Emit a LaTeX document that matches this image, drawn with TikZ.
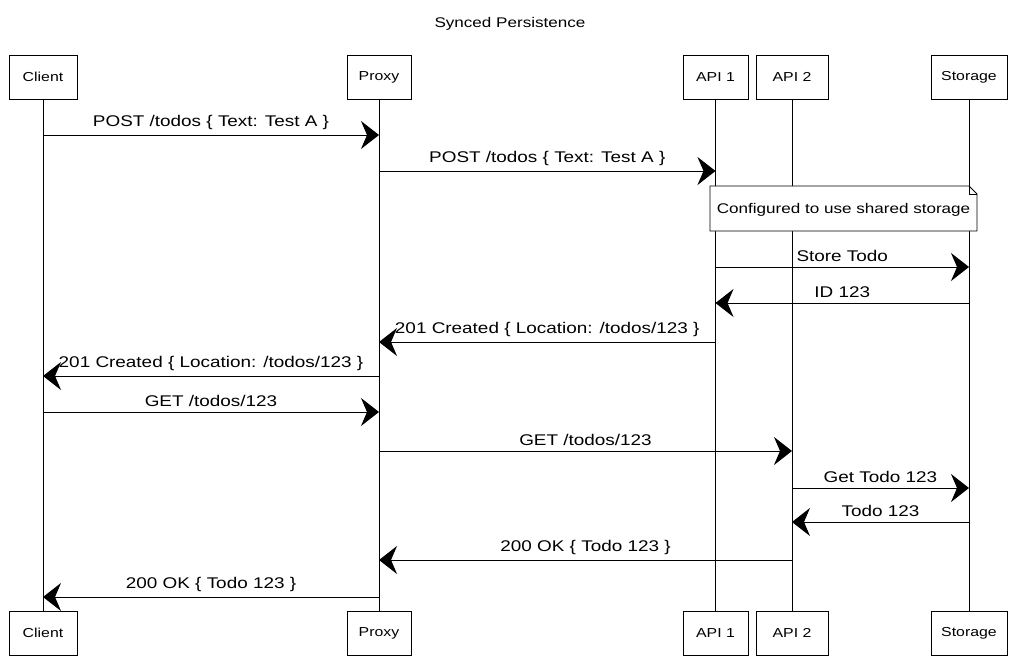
\documentclass[tikz,border=0pt]{standalone}
\usepackage{fontspec}
\setmainfont[FakeStretch=1.22]{Liberation Sans}
\usetikzlibrary{arrows.meta}
\begin{document}
\begin{tikzpicture}[x=1pt,y=-1pt,
  part/.style={draw=black,line width=0.9pt,fill=white,minimum height=44pt,inner sep=0pt,font=\fontsize{13}{15}\selectfont},
  life/.style={draw=black,line width=0.8pt},
  msg/.style={draw=black,line width=1pt,-{Stealth[length=18pt,width=28pt,inset=6pt]}},
  lbl/.style={font=\fontsize{15.5}{18}\selectfont,inner sep=0pt,anchor=base}
]
\useasboundingbox (0,0) rectangle (1020,659);
\node[font=\fontsize{14}{16}\selectfont] (title) at (510,24) {Synced Persistence};

% top participants
\node[part,minimum width=68pt] (ct) at (43,77) {Client};
\node[part,minimum width=64pt] (pt) at (379,77) {Proxy};
\node[part,minimum width=65pt] (at) at (715.5,77) {API 1};
\node[part,minimum width=72pt] (bt) at (792,77) {API 2};
\node[part,minimum width=76pt] (st) at (969,77) {Storage};
% bottom participants
\node[part,minimum width=68pt] (cb) at (43,633) {Client};
\node[part,minimum width=64pt] (pb) at (379,633) {Proxy};
\node[part,minimum width=65pt] (ab) at (715.5,633) {API 1};
\node[part,minimum width=72pt] (bb) at (792,633) {API 2};
\node[part,minimum width=76pt] (sb) at (969,633) {Storage};

% lifelines
\draw[life] (ct.south) -- (cb.north);
\draw[life] (pt.south) -- (pb.north);
\draw[life] (at.south) -- (ab.north);
\draw[life] (bt.south) -- (bb.north);
\draw[life] (st.south) -- (sb.north);

% note
\draw[line width=0.9pt,fill=white] (710,186) -- (969,186) -- (977,194) -- (977,231) -- (710,231) -- cycle;
\draw[line width=0.9pt] (969,186) -- (969,194) -- (977,194);
\node[font=\fontsize{14}{16}\selectfont,inner sep=0pt] (note) at (843.5,210) {Configured to use shared storage};

% messages
\draw[msg] (ct.south |- 0,135) -- (pt.south |- 0,135) node[lbl,midway,above=5pt] {POST /todos \{ Text: Test A \}};
\draw[msg] (pt.south |- 0,171) -- (at.south |- 0,171) node[lbl,midway,above=5pt] {POST /todos \{ Text: Test A \}};
\draw[msg] (at.south |- 0,267) -- (st.south |- 0,267) node[lbl,midway,above=5pt] {Store Todo};
\draw[msg] (st.south |- 0,303) -- (at.south |- 0,303) node[lbl,midway,above=5pt] {ID 123};
\draw[msg] (at.south |- 0,342) -- (pt.south |- 0,342) node[lbl,midway,above=5pt] {201 Created \{ Location: /todos/123 \}};
\draw[msg] (pt.south |- 0,376) -- (ct.south |- 0,376) node[lbl,midway,above=5pt] {201 Created \{ Location: /todos/123 \}};
\draw[msg] (ct.south |- 0,412) -- (pt.south |- 0,412) node[lbl,midway,above=5pt] {GET /todos/123};
\draw[msg] (pt.south |- 0,451) -- (bt.south |- 0,451) node[lbl,midway,above=5pt] {GET /todos/123};
\draw[msg] (bt.south |- 0,488) -- (st.south |- 0,488) node[lbl,midway,above=5pt] {Get Todo 123};
\draw[msg] (st.south |- 0,522) -- (bt.south |- 0,522) node[lbl,midway,above=5pt] {Todo 123};
\draw[msg] (bt.south |- 0,560) -- (pt.south |- 0,560) node[lbl,midway,above=5pt] {200 OK \{ Todo 123 \}};
\draw[msg] (pt.south |- 0,597) -- (ct.south |- 0,597) node[lbl,midway,above=5pt] {200 OK \{ Todo 123 \}};
\end{tikzpicture}
\end{document}
